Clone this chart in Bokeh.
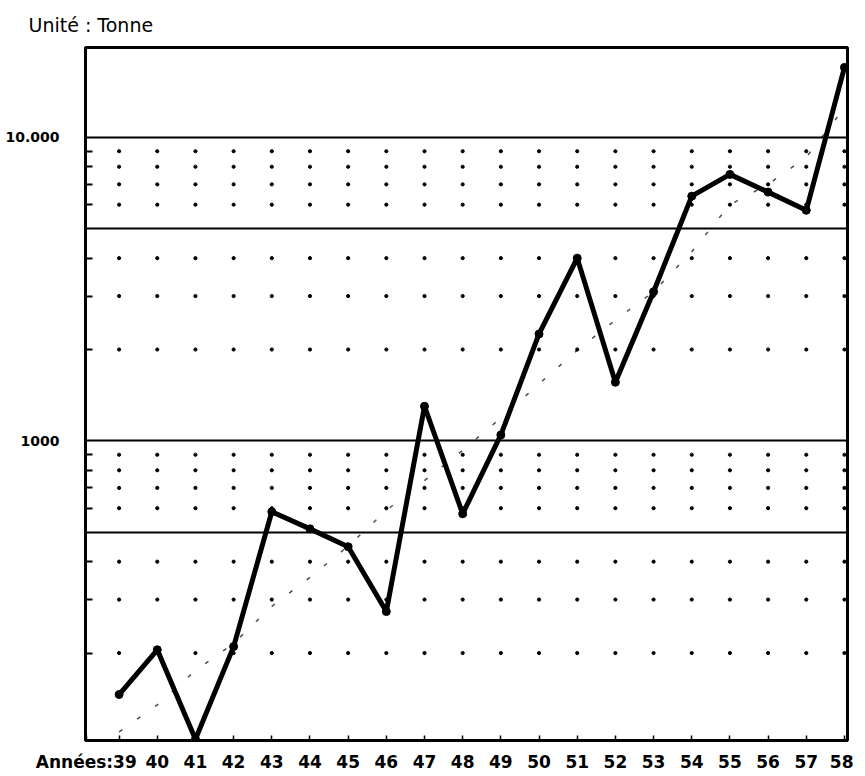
import numpy as np
from bokeh.plotting import figure
from bokeh.models import FixedTicker, ColumnDataSource
from bokeh.embed import file_html
from bokeh.resources import INLINE

# ---- data ----
years = [39, 40, 41, 42, 43, 44, 45, 46, 47, 48, 49, 50, 51, 52, 53, 54, 55, 56, 57, 58]
tonnage = [146, 205, 104, 210, 584, 513, 448, 274, 1300, 575, 1046, 2250, 4000, 1560,
           3100, 6400, 7550, 6600, 5750, 17000]
faint_series = [110, 135, 175, 215, 285, 355, 450, 590, 740, 930, 1190, 1540, 1990, 2500,
                3100, 4200, 6000, 7000, 8600, 12500]
major_levels = [1000, 10000]
major_labels = {1000: "1000", 10000: "10.000"}
solid_levels = [500, 1000, 5000, 10000]
dotted_levels = [200, 300, 400, 600, 700, 800, 900, 2000, 3000, 4000, 6000, 7000, 8000, 9000]
title_text = "Unité : Tonne"
x_title = "Années:"

FONT = "DejaVu Sans"
CAPTION_POS = 38.14   # where the "Années:39" caption is centred on the x axis

p = figure(width=853, height=774, x_range=(38.12, 58.08), y_range=(103, 19770),
           y_axis_type="log", output_backend="svg", toolbar_location=None,
           min_border_left=85, min_border_right=6, min_border_top=47, min_border_bottom=32)
p.background_fill_color = "white"
p.border_fill_color = "white"
p.outline_line_color = "black"
p.outline_line_width = 3

# title
p.title.text = title_text
p.title.align = "left"
p.title.offset = -57
p.title.standoff = 23
p.title.text_font = FONT
p.title.text_font_style = "normal"
p.title.text_font_size = "19px"
p.title.text_color = "black"

# grids
p.xgrid.visible = False
p.ygrid.ticker = FixedTicker(ticks=solid_levels)
p.ygrid.grid_line_color = "black"
p.ygrid.grid_line_width = 2

# y axis
p.yaxis.ticker = FixedTicker(ticks=major_levels, minor_ticks=dotted_levels)
p.yaxis.major_label_overrides = major_labels
p.yaxis.major_tick_in = 0
p.yaxis.major_tick_out = 0
p.yaxis.minor_tick_in = 7
p.yaxis.minor_tick_out = 0
p.yaxis.minor_tick_line_width = 2
p.yaxis.minor_tick_line_color = "black"
p.yaxis.axis_line_width = 3
p.yaxis.major_label_standoff = 26
p.yaxis.major_label_text_font = FONT
p.yaxis.major_label_text_font_style = "bold"
p.yaxis.major_label_text_font_size = "14px"
p.yaxis.major_label_text_color = "black"

# x axis: year labels, the first one carries the "Années:" caption
x_overrides = {CAPTION_POS: x_title + str(years[0]), years[0]: ""}
p.xaxis.ticker = FixedTicker(ticks=[CAPTION_POS] + years)
p.xaxis.major_label_overrides = x_overrides
p.xaxis.major_tick_in = 5
p.xaxis.major_tick_out = 0
p.xaxis.major_tick_line_width = 1.5
p.xaxis.minor_tick_line_color = None
p.xaxis.axis_line_width = 3
p.xaxis.major_label_standoff = 11
p.xaxis.major_label_text_font = FONT
p.xaxis.major_label_text_font_style = "bold"
p.xaxis.major_label_text_font_size = "17px"
p.xaxis.major_label_text_color = "black"

# dotted grid: a dot at every year on every minor level
gx, gy = np.meshgrid(years, dotted_levels)
p.scatter(gx.ravel(), gy.ravel(), size=3.2, color="black", marker="circle")

# faint dashed series
p.line(years, faint_series, line_color="black", line_width=1.5, line_dash="4 18", line_alpha=0.7)

# main series
src = ColumnDataSource(dict(x=years, y=tonnage))
p.line("x", "y", source=src, line_color="black", line_width=5, line_join="round")
p.scatter("x", "y", source=src, size=8, color="black", marker="circle")

open("out.html", "w").write(file_html(p, INLINE))
